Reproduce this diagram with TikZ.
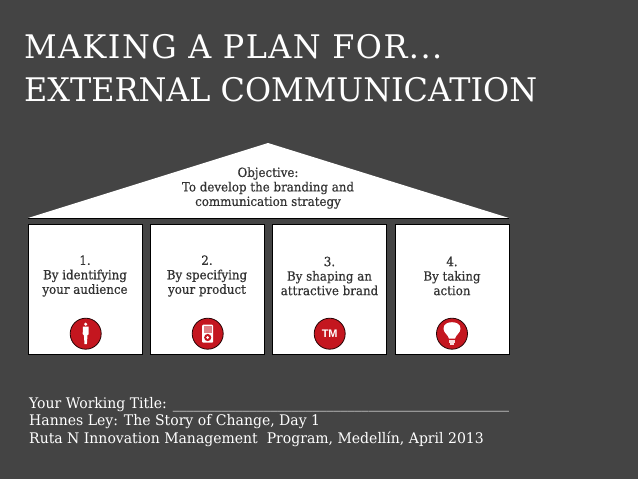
\documentclass[tikz,border=0pt]{standalone}
\usepackage{fontspec}
\setmainfont[FakeStretch=0.96]{DejaVu Serif}
\newfontfamily\headfont[FakeStretch=0.98]{DejaVu Serif}
\newfontfamily\headwidefont[FakeStretch=0.98,LetterSpace=4.5]{DejaVu Serif}
\newfontfamily\pillarfont[FakeStretch=0.94,FakeBold=0.5]{DejaVu Serif}
\setsansfont{Liberation Sans}
\usepackage{xcolor}
\definecolor{slate}{HTML}{444444}
\definecolor{badge}{HTML}{C4161F}
\tikzset{
  pillar/.style={draw=black, fill=white, line width=0.8pt, minimum width=114pt, minimum height=130pt, inner sep=0pt},
  pillartext/.style={align=center, font=\pillarfont\fontsize{12.6}{14.5}\selectfont, text=black!80},
  icon/.style={circle, draw=black!80!badge, fill=badge, line width=0.8pt, minimum size=31pt, inner sep=0pt},
  headline/.style={anchor=base west, inner sep=0pt, text=white, font=\headfont\fontsize{32.5}{36}\selectfont},
  footline/.style={anchor=base west, inner sep=0pt, text=white, font=\fontsize{14.6}{16}\selectfont}
}
\begin{document}
\begin{tikzpicture}[x=1pt,y=-1pt]

\useasboundingbox[fill=slate] (0,0) rectangle (638,479);

\coordinate (apex) at (268,143);
\coordinate (eaveleft) at (28,218);
\coordinate (eaveright) at (509,218);

% Titulo
\node[headline, font=\headwidefont\fontsize{32.5}{36}\selectfont] (title1) at (24,58) {MAKING A PLAN FOR...};
\node[headline] (title2) at (24,101) {EXTERNAL COMMUNICATION};

% Techo
\fill[white] (apex) -- (eaveright) -- (eaveleft) -- cycle;
\draw[line width=0.9pt] (eaveleft) -- (eaveright);
\node[pillartext] (objective) at (268,188) {Objective:\\To develop the branding and\\communication strategy};

% Columnas
\node[pillar] (box1) at (85,289) {};
\node[pillar] (box2) at (207,289) {};
\node[pillar] (box3) at (329.5,289) {};
\node[pillar] (box4) at (452,289) {};

\node[pillartext] (text1) at (85,276) {1.\\By identifying\\your audience};
\node[pillartext] (text2) at (207,276) {2.\\By specifying\\your product};
\node[pillartext] (text3) at (329.5,276) {3.\\By shaping an\\attractive brand};
\node[pillartext] (text4) at (452,276) {4.\\By taking\\action};

% Iconos
\node[icon] (icon1) at (85.7,333.7) {};
\node[icon] (icon2) at (207.7,333.7) {};
\node[icon] (icon3) at (329.7,333.7) {\textsf{\textbf{\fontsize{11}{11}\selectfont\textcolor{white}{TM}}}};
\node[icon] (icon4) at (452,333.7) {};

% persona
\begin{scope}[shift={(icon1)}]
\fill[white] (0,-9.5) circle (1.7);
\fill[white] (-2.8,-7) -- (2.8,-7) -- (3,0.5) -- (1.8,1.5) -- (1.2,10.5) -- (-1.2,10.5) -- (-1.8,1.5) -- (-3,0.5) -- cycle;
\end{scope}

% reproductor
\begin{scope}[shift={(icon2)}]
\fill[white, rounded corners=1pt] (-5.5,-9) rectangle (5.5,9);
\fill[badge!55!white] (-3.8,-7.3) rectangle (3.8,-1);
\fill[badge] (0,3.8) circle (3.6);
\fill[white] (0,3.8) circle (1.5);
\end{scope}

% bombilla
\begin{scope}[shift={(icon4)}]
\fill[white] (-3,5) .. controls (-3.5,1.5) and (-8.5,-1) .. (-8.5,-5) .. controls (-8.5,-9.5) and (-4.5,-11.5) .. (0,-11.5) .. controls (4.5,-11.5) and (8.5,-9.5) .. (8.5,-5) .. controls (8.5,-1) and (3.5,1.5) .. (3,5) -- cycle;
\fill[white!85!badge] (-3,6) rectangle (3,9);
\fill[white!85!badge] (-1.8,9.6) rectangle (1.8,11);
\end{scope}

% Pie
\node[footline] (foot1) at (29,408) {Your Working Title: \_\_\_\_\_\_\_\_\_\_\_\_\_\_\_\_\_\_\_\_\_\_\_\_\_\_\_\_\_\_\_\_\_\_\_\_\_\_\_\_\_\_\_\_\_\_\_\_};
\node[footline] (foot2) at (29,425.5) {Hannes Ley: The Story of Change, Day 1};
\node[footline] (foot3) at (29,443) {Ruta N Innovation Management~~Program, Medellín, April 2013};
\end{tikzpicture}
\end{document}
